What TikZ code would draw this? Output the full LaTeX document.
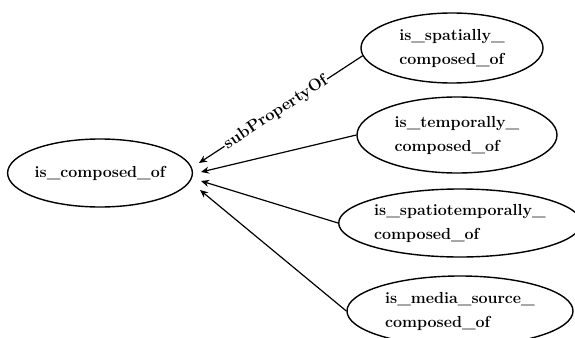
\documentclass[tikz,border=0pt]{standalone}
\usetikzlibrary{shapes.geometric,arrows.meta}
\begin{document}
\begin{tikzpicture}[x=1pt,y=-1pt,
  prop/.style={draw,ellipse,line width=1.4pt,inner sep=0pt,
    font=\fontsize{16}{24}\selectfont\bfseries,align=left},
  sub/.style={line width=1.2pt,-{Stealth[length=8pt,width=7pt]}},
  lbl/.style={font=\fontsize{16.5}{20}\selectfont\bfseries,sloped,fill=white,inner sep=1pt}]
\useasboundingbox (0,0) rectangle (575,337);
\node[prop,minimum width=184pt,minimum height=68pt] (L) at (100,173) {is\_composed\_of};
\node[prop,minimum width=182pt,minimum height=70pt] (S1) at (452,48) {is\_spatially\_\\composed\_of};
\node[prop,minimum width=200pt,minimum height=76pt] (S2) at (457,135) {is\_temporally\_\\composed\_of};
\node[prop,minimum width=226pt,minimum height=68pt] (S3) at (460,223) {is\_spatiotemporally\_\\composed\_of};
\node[prop,minimum width=226pt,minimum height=70pt] (S4) at (460,311) {is\_media\_source\_\\composed\_of};
\coordinate (e1) at (199,163);
\coordinate (e2) at (201,172);
\coordinate (e3) at (201,181);
\coordinate (e4) at (200,190);
\draw[sub] (S1.185) -- node[lbl,pos=0.53] {subPropertyOf} (e1);
\draw[sub] (S2.west) -- (e2);
\draw[sub] (S3.west) -- (e3);
\draw[sub] (S4.west) -- (e4);
\end{tikzpicture}
\end{document}
